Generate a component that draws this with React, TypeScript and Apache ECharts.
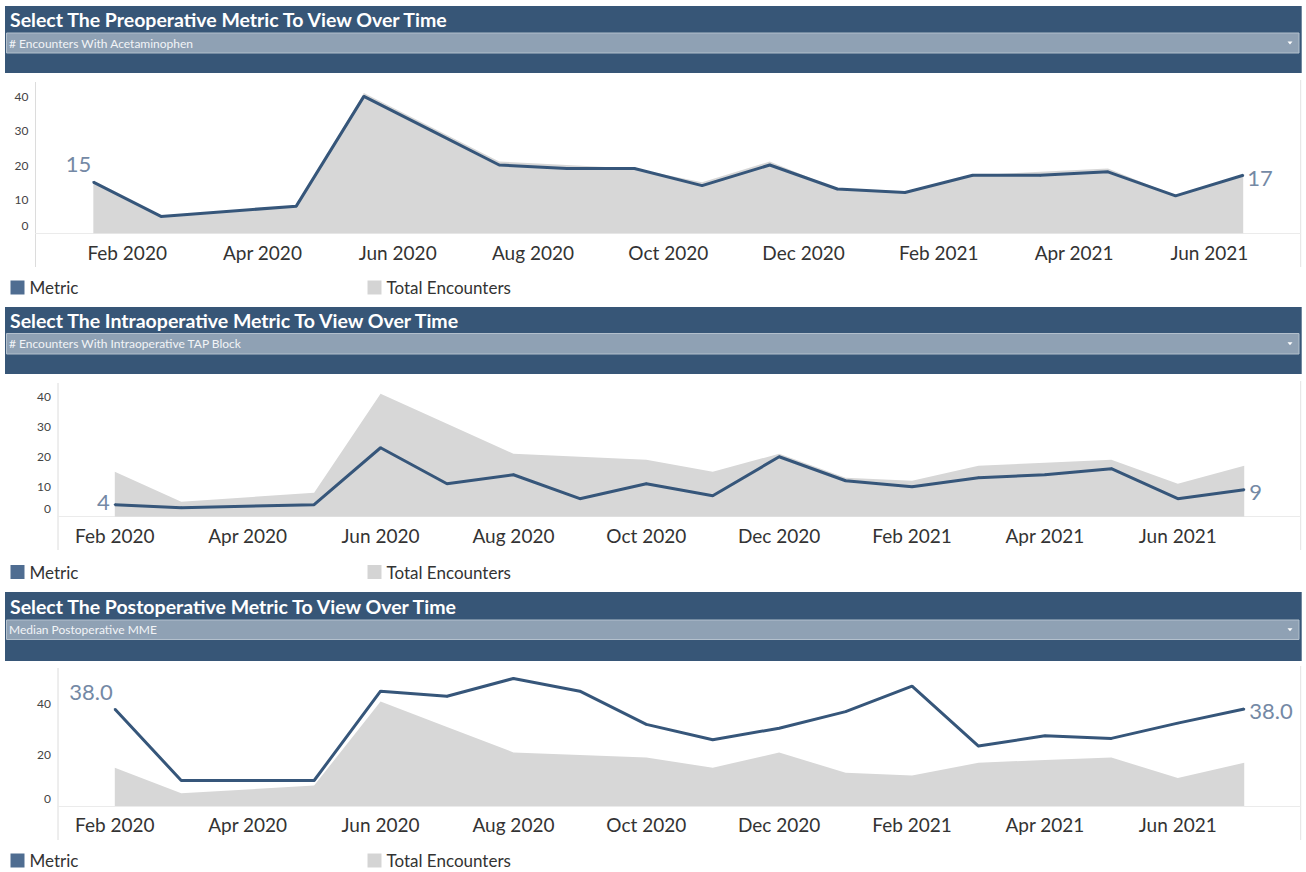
import React, { useEffect, useRef } from "react";
import * as echarts from "echarts";

// ---------- data ----------
const months = [
  "Feb 2020", "Mar 2020", "Apr 2020", "May 2020", "Jun 2020", "Jul 2020",
  "Aug 2020", "Sep 2020", "Oct 2020", "Nov 2020", "Dec 2020", "Jan 2021",
  "Feb 2021", "Mar 2021", "Apr 2021", "May 2021", "Jun 2021", "Jul 2021",
];
// April 2020 has no encounters recorded (null)
const totalEncounters = [15, 5, null, 8, 41, 31, 21, 20, 19, 15, 21, 13, 12, 17, 18, 19, 11, 17];
const preopMetric = [15, 5, null, 8, 40, 30, 20, 19, 19, 14, 20, 13, 12, 17, 17, 18, 11, 17];
const intraopMetric = [4, 3, null, 4, 23, 11, 14, 6, 11, 7, 20, 12, 10, 13, 14, 16, 6, 9];
const postopMetric = [38, 10, null, 10, 45, 43, 50, 45, 32, 26, 30.5, 37, 47, 23.5, 27.5, 26.5, 32.5, 38];

const panelTitles = [
  "Select The Preoperative Metric To View Over Time",
  "Select The Intraoperative Metric To View Over Time",
  "Select The Postoperative Metric To View Over Time",
];
const dropdownLabels = [
  "# Encounters With Acetaminophen",
  "# Encounters With Intraoperative TAP Block",
  "Median Postoperative MME",
];
const xTickMonthIdx = [0, 2, 4, 6, 8, 10, 12, 14, 16];
const yTicksCount = [0, 10, 20, 30, 40];
const yTicksMME = [0, 20, 40];
const legendNames = ["Metric", "Total Encounters"];

// ---------- styling / layout ----------
const FONT = "Lato";
const HEADER = "#375677";
const DROPDOWN = "#8fa1b4";
const LINE = "#36567a";
const AREA = "#d7d7d7";
const LABEL = "#7489a5";

const panels = [
  { metric: preopMetric, headerTop: 6, headerH: 67, ddTop: 33, ddH: 20, titleY: 19.5, gridLeft: 35.5, gridTop: 82, zeroY: 233.6, yMax: 44.2, yTicks: yTicksCount, axisBottom: 267, legendY: 287, labelShift: 0.5, decimals: 0,
    firstLabel: { position: "left", distance: 1, offset: [0, -19] }, lastLabel: { position: "right", distance: 3, offset: [0, 2.5] } },
  { metric: intraopMetric, headerTop: 307, headerH: 67, ddTop: 333.5, ddH: 20.5, titleY: 320.5, gridLeft: 58, gridTop: 383, zeroY: 516.7, yMax: 44.6, yTicks: yTicksCount, axisBottom: 550, legendY: 571.5, labelShift: 0, decimals: 0,
    firstLabel: { position: "left", distance: 4, offset: [0, -3.5] }, lastLabel: { position: "right", distance: 4, offset: [0, 1.5] } },
  { metric: postopMetric, headerTop: 592, headerH: 69, ddTop: 620, ddH: 19.5, titleY: 606, gridLeft: 58, gridTop: 668, zeroY: 806, yMax: 54.1, yTicks: yTicksMME, axisBottom: 840, legendY: 860, labelShift: 0, decimals: 1,
    firstLabel: { position: "left", distance: 1, offset: [0, -18] }, lastLabel: { position: "right", distance: 4, offset: [0, 1.5] } },
];

const X_MIN = -0.855;
const X_MAX = 17.85;
const RIGHT_EDGE = 1300.7;

function buildOption() {
  const grid: any[] = [];
  const xAxis: any[] = [];
  const yAxis: any[] = [];
  const series: any[] = [];
  const legend: any[] = [];
  const graphic: any[] = [];

  panels.forEach((p, pi) => {
    grid.push({
      left: p.gridLeft,
      right: 1306 - RIGHT_EDGE,
      top: p.gridTop,
      height: p.zeroY - p.gridTop,
      containLabel: false,
      outerBoundsMode: "none",
    });
    const shift = p.labelShift;
    xAxis.push({
      type: "value",
      gridIndex: pi,
      min: X_MIN,
      max: X_MAX,
      splitLine: { show: false },
      axisTick: { show: false },
      axisLine: { show: true, onZero: true, lineStyle: { color: "#ebebeb", width: 1 } },
      axisLabel: {
        customValues: xTickMonthIdx.map((i) => i + shift),
        formatter: (v: number) => months[Math.round(v - shift)] ?? "",
        fontFamily: FONT,
        fontSize: 19,
        color: "#333",
        margin: 9,
      },
    });
    yAxis.push({
      type: "value",
      gridIndex: pi,
      min: 0,
      max: p.yMax,
      splitLine: { show: false },
      axisTick: { show: false },
      axisLine: { show: false },
      axisLabel: {
        customValues: p.yTicks,
        margin: 7,
        formatter: (v: number) => (v === 0 ? "{z|0}" : "{n|" + v + "}"),
        rich: {
          z: { fontFamily: FONT, fontSize: 12, color: "#444", padding: [0, 0, 16, 0] },
          n: { fontFamily: FONT, fontSize: 12, color: "#444" },
        },
      },
    });

    const areaData = totalEncounters.map((v, i) => [i, v]);
    const n = p.metric.length;
    const lineData = p.metric.map((v, i) => {
      const item: any = { value: [i, v] };
      if (i === 0 || i === n - 1) {
        const cfg = i === 0 ? p.firstLabel : p.lastLabel;
        item.label = {
          show: true,
          position: cfg.position,
          distance: cfg.distance,
          offset: cfg.offset,
          formatter: (prm: any) => Number(prm.value[1]).toFixed(p.decimals),
          fontFamily: FONT,
          fontSize: 22,
          fontWeight: "normal",
          color: LABEL,
        };
      }
      return item;
    });

    series.push({
      name: legendNames[1],
      type: "line",
      xAxisIndex: pi,
      yAxisIndex: pi,
      data: areaData,
      connectNulls: true,
      symbol: "none",
      color: AREA,
      lineStyle: { width: 0, color: AREA },
      areaStyle: { color: AREA, opacity: 1 },
      z: 1,
    });
    series.push({
      name: legendNames[0],
      type: "line",
      xAxisIndex: pi,
      yAxisIndex: pi,
      data: lineData,
      connectNulls: true,
      symbol: "circle",
      symbolSize: 2,
      showSymbol: true,
      color: LINE,
      itemStyle: { color: LINE },
      lineStyle: { width: 3, color: LINE },
      z: 3,
    });

    legend.push({
      left: 10.5,
      top: p.legendY - 8,
      padding: 0,
      icon: "rect",
      itemWidth: 14,
      itemHeight: 14,
      selectedMode: false,
      data: [{ name: legendNames[0], itemStyle: { color: "#4f6d91" } }],
      textStyle: { fontFamily: FONT, fontSize: 17, color: "#333" },
    });
    legend.push({
      left: 367.5,
      top: p.legendY - 8,
      padding: 0,
      icon: "rect",
      itemWidth: 14,
      itemHeight: 14,
      selectedMode: false,
      data: [{ name: legendNames[1], itemStyle: { color: "#d4d4d4" } }],
      textStyle: { fontFamily: FONT, fontSize: 17, color: "#333" },
    });

    // header
    graphic.push({
      type: "rect",
      shape: { x: 5, y: p.headerTop, width: 1296.7, height: p.headerH },
      style: { fill: HEADER },
      silent: true,
    });
    graphic.push({
      type: "rect",
      shape: { x: 6.5, y: p.ddTop, width: 1292.5, height: p.ddH },
      style: { fill: DROPDOWN, stroke: "#b3c0cd", lineWidth: 1 },
      silent: true,
    });
    graphic.push({
      type: "text",
      x: 10,
      y: p.titleY,
      style: { text: panelTitles[pi], fill: "#ffffff", font: `bold 19.5px ${FONT}`, verticalAlign: "middle" },
      silent: true,
    });
    graphic.push({
      type: "text",
      x: 9,
      y: p.ddTop + p.ddH / 2,
      style: { text: dropdownLabels[pi], fill: "#f2f4f7", font: `12px ${FONT}`, verticalAlign: "middle" },
      silent: true,
    });
    const ty = p.ddTop + p.ddH / 2;
    graphic.push({
      type: "polygon",
      shape: { points: [[1287.5, ty - 1.5], [1292.5, ty - 1.5], [1290, ty + 1.5]] },
      style: { fill: "#ffffff" },
      silent: true,
    });
    // left axis line and right border of the pane
    graphic.push({
      type: "line",
      shape: { x1: p.gridLeft, y1: p.gridTop, x2: p.gridLeft, y2: p.axisBottom },
      style: { stroke: "#dcdcdc", lineWidth: 1 },
      silent: true,
    });
    graphic.push({
      type: "line",
      shape: { x1: RIGHT_EDGE, y1: p.gridTop - 2, x2: RIGHT_EDGE, y2: p.axisBottom },
      style: { stroke: "#e3e3e3", lineWidth: 1 },
      silent: true,
    });
  });

  return {
    animation: false,
    backgroundColor: "#ffffff",
    textStyle: { fontFamily: FONT },
    grid,
    xAxis,
    yAxis,
    series,
    legend,
    graphic,
  };
}

export default function App() {
  const ref = useRef<HTMLDivElement>(null);
  useEffect(() => {
    if (!ref.current) return;
    const chart = echarts.init(ref.current, undefined, { renderer: "svg" });
    chart.setOption(buildOption() as any);
    return () => chart.dispose();
  }, []);
  return (
    <div
      ref={ref}
      style={{ position: "absolute", left: 0, top: 0, width: 1306, height: 872, background: "#fff" }}
    />
  );
}
